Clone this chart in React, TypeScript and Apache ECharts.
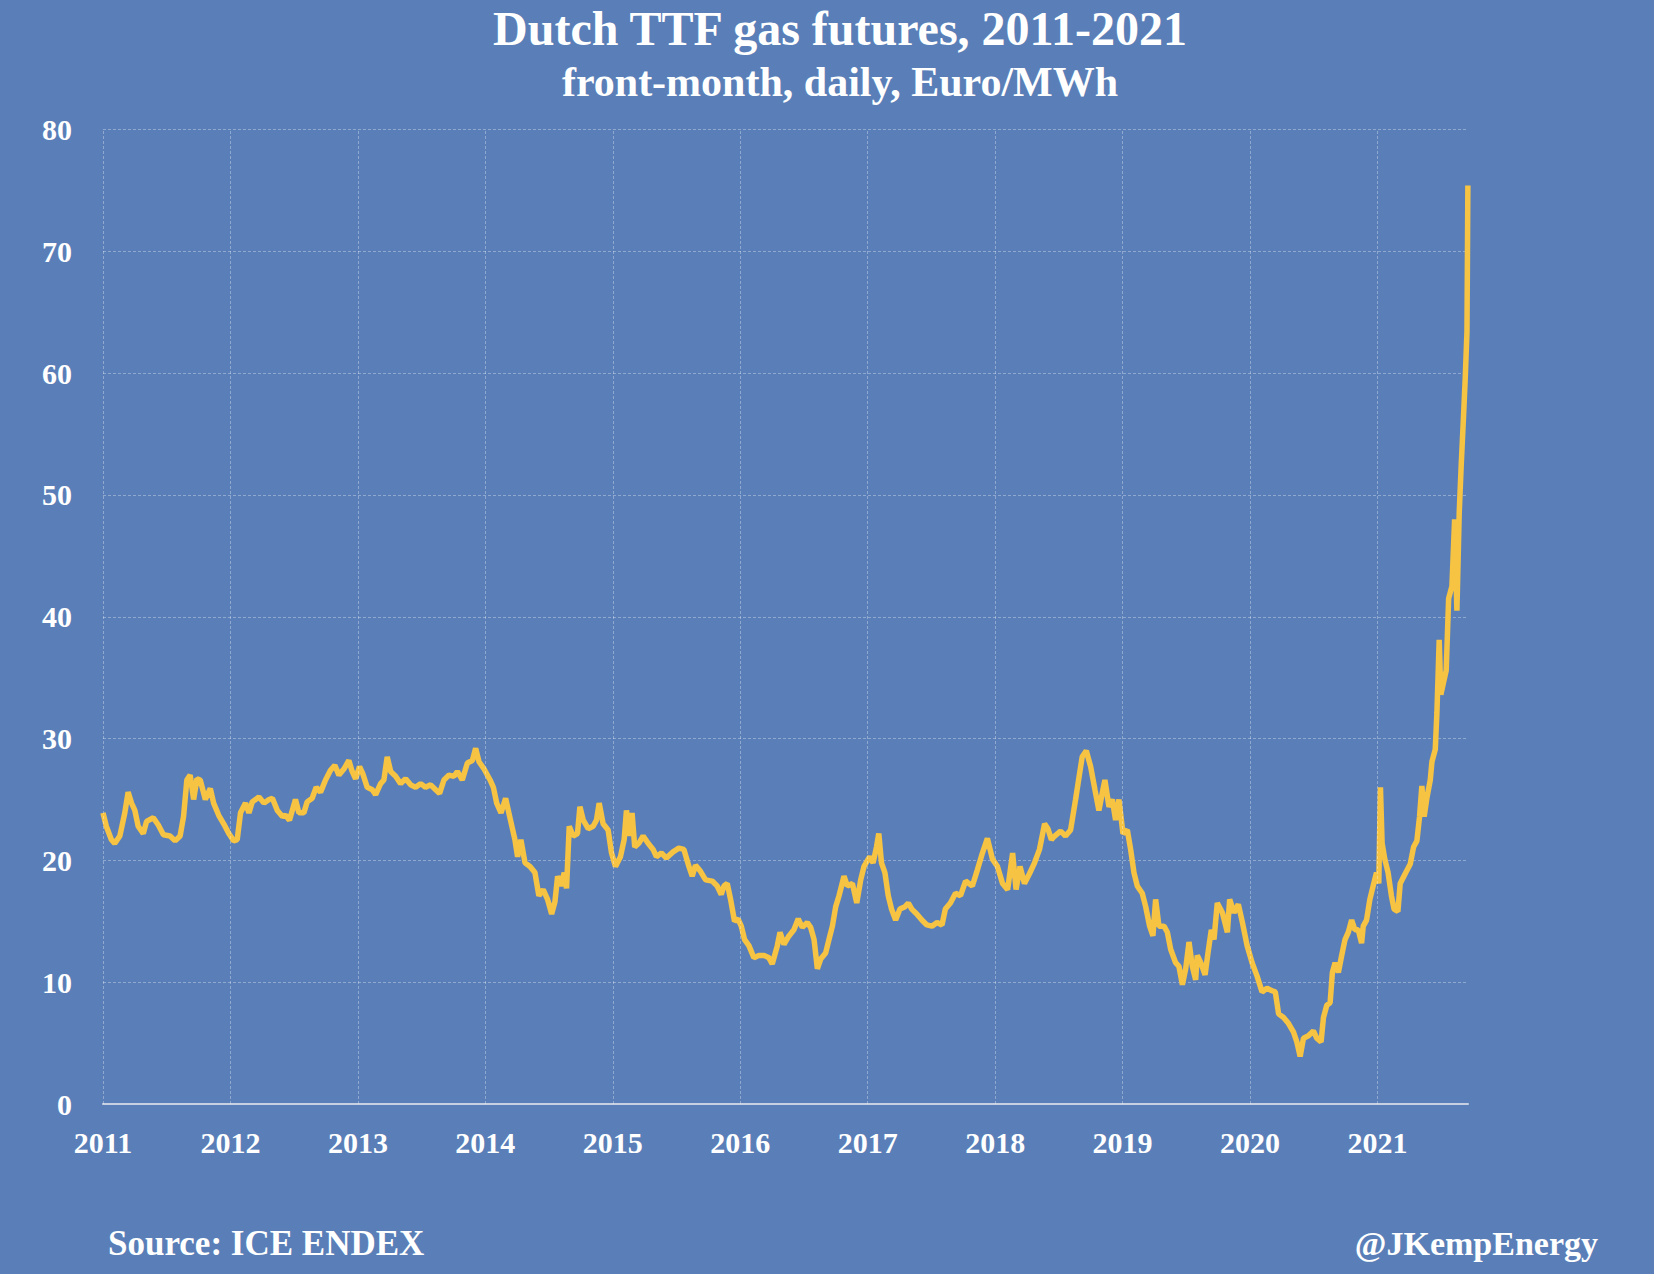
import React, { useEffect, useRef } from "react";
import * as echarts from "echarts";

// Decimal-year dates and front-month TTF prices (Euro/MWh)
const years: number[] = [
  2011.000, 2011.026, 2011.066, 2011.092, 2011.132, 2011.171, 2011.197, 2011.224, 2011.250, 2011.276,
  2011.316, 2011.342, 2011.395, 2011.434, 2011.474, 2011.526, 2011.566, 2011.605, 2011.632, 2011.658,
  2011.684, 2011.711, 2011.737, 2011.763, 2011.803, 2011.842, 2011.868, 2011.908, 2011.947, 2011.987,
  2012.026, 2012.053, 2012.079, 2012.118, 2012.145, 2012.171, 2012.224, 2012.263, 2012.303, 2012.329,
  2012.368, 2012.408,
  2012.432, 2012.463, 2012.510, 2012.537, 2012.576, 2012.602, 2012.641, 2012.673, 2012.707, 2012.746,
  2012.785, 2012.819, 2012.851, 2012.890, 2012.929, 2012.955, 2012.982, 2013.013, 2013.039, 2013.073,
  2013.113, 2013.139, 2013.178, 2013.204, 2013.230, 2013.257, 2013.296, 2013.335, 2013.374, 2013.414,
  2013.453, 2013.492, 2013.531, 2013.571, 2013.610, 2013.641, 2013.675, 2013.715, 2013.754, 2013.780,
  2013.819, 2013.859, 2013.898, 2013.924, 2013.950, 2013.990,
  2014.037, 2014.063, 2014.089, 2014.123, 2014.159, 2014.193, 2014.232, 2014.253, 2014.279, 2014.311,
  2014.350, 2014.389, 2014.420, 2014.454, 2014.488, 2014.520, 2014.546, 2014.567, 2014.593, 2014.619,
  2014.637, 2014.658, 2014.689, 2014.723, 2014.742, 2014.768, 2014.807, 2014.846, 2014.872, 2014.893,
  2014.924, 2014.963, 2014.990, 2015.021, 2015.060, 2015.089, 2015.107, 2015.133, 2015.151, 2015.172,
  2015.204, 2015.238, 2015.277, 2015.316, 2015.342, 2015.381, 2015.420, 2015.473,
  2015.518, 2015.558, 2015.597, 2015.623, 2015.649, 2015.688, 2015.728, 2015.780, 2015.819, 2015.851,
  2015.872, 2015.898, 2015.924, 2015.955, 2015.982, 2016.008, 2016.034, 2016.068, 2016.107, 2016.147,
  2016.186, 2016.225, 2016.251, 2016.291, 2016.312, 2016.343, 2016.382, 2016.421, 2016.455, 2016.487,
  2016.526, 2016.552, 2016.579, 2016.605, 2016.631, 2016.670, 2016.696, 2016.723, 2016.749, 2016.775,
  2016.814, 2016.840, 2016.880, 2016.914, 2016.945, 2016.971,
  2017.016, 2017.042, 2017.069, 2017.087, 2017.108, 2017.135, 2017.161, 2017.187, 2017.219, 2017.253,
  2017.293, 2017.319, 2017.346, 2017.385, 2017.425, 2017.464, 2017.504, 2017.544, 2017.583, 2017.609,
  2017.649, 2017.689, 2017.728, 2017.768, 2017.821, 2017.860, 2017.900, 2017.939, 2017.979, 2018.018,
  2018.058, 2018.098, 2018.137, 2018.164, 2018.195, 2018.230, 2018.269, 2018.309, 2018.348, 2018.388,
  2018.414, 2018.441, 2018.467,
  2018.513, 2018.552, 2018.592, 2018.631, 2018.662, 2018.683, 2018.715, 2018.749, 2018.783, 2018.814,
  2018.840, 2018.861, 2018.893, 2018.919, 2018.945, 2018.971, 2019.003, 2019.037, 2019.063, 2019.089,
  2019.115, 2019.154, 2019.181, 2019.212, 2019.238, 2019.259, 2019.285, 2019.325, 2019.351, 2019.377,
  2019.416, 2019.442, 2019.469, 2019.495, 2019.521, 2019.547, 2019.573, 2019.586, 2019.613, 2019.647,
  2019.670, 2019.696, 2019.717, 2019.743, 2019.783, 2019.822, 2019.840, 2019.874, 2019.908, 2019.940,
  2019.977, 2020.016, 2020.055, 2020.094, 2020.133, 2020.172, 2020.198, 2020.224, 2020.263, 2020.302,
  2020.341, 2020.367, 2020.393, 2020.419, 2020.458, 2020.497, 2020.523, 2020.557, 2020.576, 2020.602,
  2020.628, 2020.646, 2020.667, 2020.693, 2020.719, 2020.745, 2020.771, 2020.797, 2020.823, 2020.849,
  2020.875, 2020.888, 2020.914, 2020.940, 2020.966, 2020.992, 2021.010, 2021.023, 2021.036, 2021.057,
  2021.083, 2021.109, 2021.130,
  2021.160, 2021.178, 2021.217, 2021.257, 2021.283, 2021.309, 2021.330, 2021.348, 2021.366, 2021.387,
  2021.414, 2021.427, 2021.453, 2021.466, 2021.484, 2021.497, 2021.518, 2021.539, 2021.558, 2021.584,
  2021.605, 2021.623, 2021.641, 2021.657, 2021.675, 2021.688, 2021.702, 2021.709,
];

const prices: number[] = [
  23.9, 22.8, 21.7, 21.4, 22.0, 23.9, 25.6, 24.7, 24.1, 22.8,
  22.2, 23.2, 23.5, 22.9, 22.1, 22.0, 21.6, 22.0, 23.6, 26.6,
  27.0, 25.0, 26.7, 26.6, 25.0, 25.9, 24.7, 23.7, 23.0, 22.2,
  21.6, 21.7, 23.9, 24.7, 23.9, 24.8, 25.2, 24.7, 25.0, 25.1,
  24.1, 23.6,
  23.7, 23.3, 25.0, 23.9, 23.9, 24.8, 25.1, 26.0, 25.6, 26.6,
  27.4, 27.8, 27.0, 27.5, 28.2, 27.3, 26.7, 27.7, 27.1, 26.0,
  25.8, 25.4, 26.3, 26.6, 28.5, 27.3, 26.9, 26.3, 26.7, 26.2,
  26.0, 26.3, 26.0, 26.2, 25.8, 25.5, 26.6, 27.0, 26.9, 27.3,
  26.6, 28.0, 28.2, 29.2, 28.1, 27.5,
  26.6, 26.0, 24.7, 23.9, 25.1, 23.5, 21.7, 20.3, 21.7, 19.8,
  19.5, 19.0, 17.1, 17.6, 16.8, 15.6, 16.6, 18.7, 17.9, 19.0,
  17.7, 22.8, 22.0, 22.2, 24.4, 23.3, 22.6, 22.8, 23.3, 24.7,
  23.0, 22.5, 20.6, 19.5, 20.3, 21.7, 24.1, 22.0, 23.9, 21.1,
  21.4, 22.0, 21.4, 20.9, 20.3, 20.6, 20.2, 20.7,
  21.0, 20.9, 19.5, 18.7, 19.6, 19.1, 18.4, 18.3, 17.9, 17.2,
  17.9, 18.1, 16.8, 15.0, 15.2, 14.6, 13.5, 13.0, 12.0, 12.2,
  12.2, 12.0, 11.5, 13.0, 14.1, 13.1, 13.8, 14.3, 15.2, 14.5,
  14.9, 14.5, 13.5, 11.1, 11.9, 12.4, 13.5, 14.6, 16.2, 17.1,
  18.7, 17.9, 18.1, 16.5, 18.4, 19.5,
  20.3, 19.8, 21.1, 22.2, 19.8, 19.0, 17.1, 16.0, 15.1, 16.0,
  16.2, 16.5, 16.0, 15.6, 15.1, 14.7, 14.6, 14.9, 14.7, 16.0,
  16.5, 17.3, 17.1, 18.3, 17.9, 19.2, 20.6, 21.8, 20.1, 19.5,
  18.1, 17.6, 20.6, 17.6, 19.5, 18.1, 18.9, 19.8, 20.9, 23.0,
  22.6, 21.7, 22.0,
  22.4, 22.0, 22.5, 25.0, 27.1, 28.5, 29.0, 27.7, 25.8, 24.1,
  25.5, 26.6, 24.4, 25.0, 23.3, 25.0, 22.2, 22.5, 20.9, 19.0,
  17.9, 17.3, 16.2, 14.6, 13.8, 16.8, 14.6, 14.6, 14.1, 12.7,
  11.6, 11.3, 9.8, 11.1, 13.3, 11.3, 10.2, 12.2, 11.6, 10.6,
  12.4, 14.3, 13.5, 16.5, 15.7, 14.1, 16.8, 15.7, 16.4, 14.9,
  13.0, 11.6, 10.5, 9.2, 9.5, 9.3, 9.2, 7.4, 7.1, 6.6,
  5.9, 5.1, 3.9, 5.4, 5.6, 6.0, 5.4, 5.1, 7.1, 8.1,
  8.3, 10.8, 11.6, 10.8, 12.2, 13.5, 14.1, 15.1, 14.3, 14.3,
  13.2, 14.6, 15.1, 16.8, 17.9, 19.0, 18.1, 26.0, 21.4, 20.1,
  19.0, 17.1, 16.0,
  15.8, 18.1, 18.9, 19.7, 21.1, 21.6, 23.6, 26.1, 23.6, 25.1,
  26.6, 28.1, 29.1, 32.1, 38.1, 33.6, 34.6, 35.6, 41.5, 42.5,
  48.0, 40.5, 48.5, 52.5, 56.5, 59.5, 63.4, 75.4,
];

const yearTicks: number[] = [2011, 2012, 2013, 2014, 2015, 2016, 2017, 2018, 2019, 2020, 2021];
const titleText = "Dutch TTF gas futures, 2011-2021";
const subtitleText = "front-month, daily, Euro/MWh";
const sourceText = "Source: ICE ENDEX";
const handleText = "@JKempEnergy";

const FONT = "'Liberation Serif', 'Times New Roman', serif";
const BG = "#5a7fb8";
const LINE = "#f6c343";
const GRID = "rgba(255,255,255,0.32)";

export default function App() {
  const ref = useRef<HTMLDivElement>(null);
  useEffect(() => {
    if (!ref.current) return;
    const chart = echarts.init(ref.current, undefined, { renderer: "svg" });
    chart.setOption({
      animation: false,
      backgroundColor: BG,
      grid: { left: 103, right: 186, top: 129.5, bottom: 170, containLabel: false },
      xAxis: {
        type: "value",
        min: 2011,
        max: 2021.71,
        interval: 1,
        axisLine: { show: true, onZero: false, lineStyle: { color: "#c6d0e0", width: 2 } },
        axisTick: { show: false },
        splitLine: { show: false },
        axisLabel: {
          color: "#ffffff",
          fontFamily: FONT,
          fontWeight: "bold",
          fontSize: 30,
          margin: 23,
          formatter: (v: number) => (Math.abs(v - Math.round(v)) < 1e-6 ? String(Math.round(v)) : ""),
        },
      },
      yAxis: {
        type: "value",
        min: 0,
        max: 80,
        interval: 10,
        axisLine: { show: false },
        axisTick: { show: false },
        splitLine: { show: true, lineStyle: { color: GRID, width: 1, type: [3, 2] } },
        axisLabel: {
          color: "#ffffff",
          fontFamily: FONT,
          fontWeight: "bold",
          fontSize: 30,
          margin: 31,
        },
      },
      series: [
        {
          type: "line",
          data: [],
          z: 1,
          silent: true,
          markLine: {
            silent: true,
            symbol: ["none", "none"],
            label: { show: false },
            lineStyle: { color: GRID, width: 1, type: [3, 2] },
            data: yearTicks.map((y) => ({ xAxis: y })),
          },
        },
        {
          type: "line",
          z: 3,
          data: years.map((y, i) => [y, prices[i]]),
          showSymbol: false,
          symbol: "none",
          lineStyle: { color: LINE, width: 5.5 },
        },
      ],
      graphic: [
        {
          type: "text",
          x: 840,
          y: 28,
          style: {
            text: titleText,
            fill: "#ffffff",
            font: `bold 48px ${FONT}`,
            textAlign: "center",
            textVerticalAlign: "middle",
          },
        },
        {
          type: "text",
          x: 840,
          y: 82,
          style: {
            text: subtitleText,
            fill: "#ffffff",
            font: `bold 42px ${FONT}`,
            textAlign: "center",
            textVerticalAlign: "middle",
          },
        },
        {
          type: "text",
          x: 108,
          y: 1243,
          style: {
            text: sourceText,
            fill: "#ffffff",
            font: `bold 35px ${FONT}`,
            textAlign: "left",
            textVerticalAlign: "middle",
          },
        },
        {
          type: "text",
          x: 1598,
          y: 1243,
          style: {
            text: handleText,
            fill: "#ffffff",
            font: `bold 34px ${FONT}`,
            textAlign: "right",
            textVerticalAlign: "middle",
          },
        },
      ],
    });
    return () => chart.dispose();
  }, []);
  return (
    <div
      ref={ref}
      style={{ position: "fixed", left: 0, top: 0, width: 1654, height: 1274 }}
    />
  );
}
